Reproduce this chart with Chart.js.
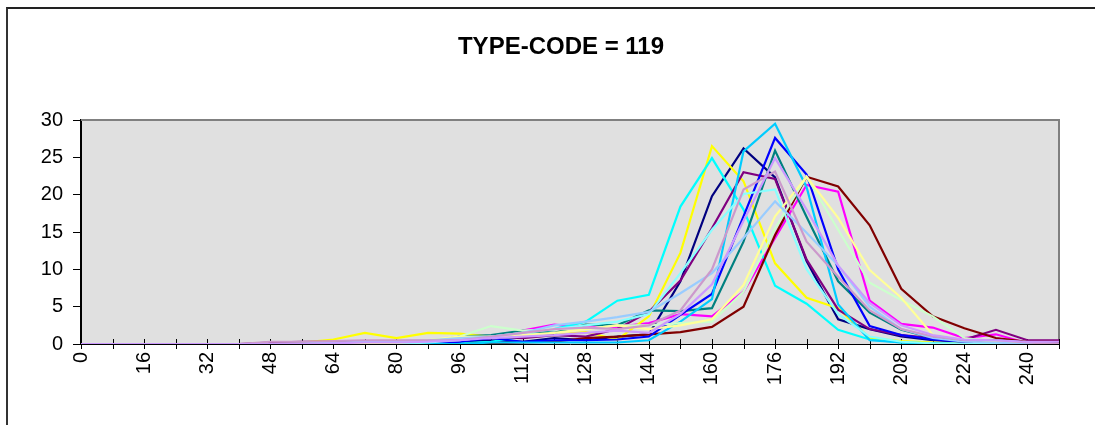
<!DOCTYPE html>
<html>
<head>
<meta charset="utf-8">
<script src="https://cdn.jsdelivr.net/npm/chart.js@4.4.0/dist/chart.umd.min.js"></script>
<style>
  html, body { margin: 0; padding: 0; background: #fff; }
  #wrap { position: relative; width: 1095px; height: 425px; }
  #frame { position: absolute; left: 6px; top: 7px; right: -10px; bottom: -10px; border-top: 2px solid #222; border-left: 2px solid #333; pointer-events: none; }
  canvas { position: absolute; left: 0; top: 0; }
</style>
</head>
<body>
<div id="wrap">
  <canvas id="c" width="1095" height="425"></canvas>
  <div id="frame"></div>
</div>
<script>
const titleText = "TYPE-CODE = 119";
const categories = [0,8,16,24,32,40,48,56,64,72,80,88,96,104,112,120,128,136,144,152,160,168,176,184,192,200,208,216,224,232,240,248];
const yTicks = [0,5,10,15,20,25,30];

const sNavy      = [0,0,0,0,0,0,0,0,0,0,0,0.1,0.3,0.5,0.3,0.8,0.5,1.0,1.3,8.4,19.8,26.2,22.3,11.1,3.3,2.0,1.0,0.5,0.3,0.2,0,0];
const sMagenta   = [0,0,0,0,0,0,0,0,0.1,0.2,0.2,0.3,0.5,0.8,1.8,2.6,2.2,2.3,2.8,4.0,3.7,7.0,14.2,21.3,20.4,5.8,2.7,2.2,0.8,1.3,0.1,0];
const sYellow    = [0,0,0,0,0,0,0,0.2,0.6,1.5,0.8,1.5,1.4,1.0,0.9,1.2,1.6,0.6,3.7,12.2,26.5,21.8,10.8,6.2,4.8,0.8,0.4,0.2,0,0,0,0];
const sCyan      = [0,0,0,0,0,0,0,0,0,0,0,0,0.1,0.3,1.0,2.0,3.0,5.8,6.6,18.4,24.9,18.0,7.8,5.4,1.9,0.6,0.2,0.1,0,0,0,0];
const sPurple    = [0,0,0,0,0,0,0.2,0.3,0.3,0.4,0.4,0.4,0.5,1.0,0.8,1.2,1.0,2.0,4.3,8.5,15.5,23.0,22.1,11.3,4.6,2.0,1.2,0.8,0.6,1.9,0.5,0.5];
const sMaroon    = [0,0,0,0,0,0,0,0,0,0,0,0,0,0.1,0.2,0.3,0.8,1.0,1.3,1.6,2.3,5.0,14.6,22.4,21.1,15.9,7.4,3.7,2.1,0.8,0.3,0.3];
const sTeal      = [0,0,0,0,0,0,0,0,0,0,0.1,0.3,1.0,1.2,1.8,1.5,2.6,2.5,4.5,4.4,4.8,13.7,25.9,17.0,8.4,4.2,1.9,0.8,0.4,0.2,0,0];
const sBlue      = [0,0,0,0,0,0,0,0,0,0,0,0,0.3,0.8,0.3,0.5,0.5,0.6,1.0,3.9,6.7,17.1,27.6,22.7,10.0,2.4,1.2,0.6,0.3,0.5,0.2,0];
const sSkyBlue   = [0,0,0,0,0,0,0,0,0,0,0,0,0,0.2,0.2,0.2,0.2,0.2,0.5,3.0,6.0,25.8,29.5,21.0,5.3,0.5,0.2,0.1,0,0,0,0];
const sLightCyan = [0,0,0,0,0,0,0,0,0,0,0,0.2,0.5,1.0,1.5,2.0,2.5,3.0,4.0,9.5,15.3,20.1,20.7,10.0,4.0,1.0,0.3,0.1,0,0,0,0];
const sLightGrn  = [0,0,0,0,0,0,0,0,0,0,0.1,0.5,1.0,2.4,1.8,2.0,2.0,2.5,2.5,2.8,3.0,7.0,15.5,22.4,15.3,8.2,5.9,3.7,0.8,0.3,0.1,0];
const sLightYel  = [0,0,0,0,0,0,0,0,0,0,0.2,0.5,1.0,1.0,1.2,1.5,2.0,2.5,2.0,2.5,3.3,7.9,17.1,22.4,16.9,9.9,6.2,1.2,0.6,0.3,0.1,0];
const sPaleBlue  = [0,0,0,0,0,0,0,0.1,0.2,0.3,0.4,0.5,0.8,1.0,1.5,2.5,3.0,3.6,4.3,6.8,9.5,14.2,19.1,14.9,10.5,5.0,2.0,0.8,0.3,0.2,0,0];
const sMauve     = [0,0,0,0,0,0,0.3,0.3,0.4,0.5,0.5,0.5,0.5,1.0,1.5,2.0,2.2,2.0,2.5,4.5,10.0,20.7,23.1,13.7,9.0,4.5,2.0,1.0,0.5,0.5,0.2,0];
const sLavender  = [0,0,0,0,0,0,0,0,0.1,0.2,0.2,0.3,0.5,0.8,1.0,1.2,1.5,1.8,1.5,4.0,8.0,16.5,24.9,18.0,10.5,5.5,2.5,1.2,0.6,0.5,0.3,0.3];

const seriesList = [
  {d: sNavy, c: '#000080'},
  {d: sMagenta, c: '#FF00FF'},
  {d: sYellow, c: '#FFFF00'},
  {d: sCyan, c: '#00FFFF'},
  {d: sPurple, c: '#800080'},
  {d: sMaroon, c: '#800000'},
  {d: sTeal, c: '#008080'},
  {d: sBlue, c: '#0000FF'},
  {d: sSkyBlue, c: '#00CCFF'},
  {d: sLightCyan, c: '#88FFFF'},
  {d: sLightGrn, c: '#CCFFCC'},
  {d: sLightYel, c: '#FFFF99'},
  {d: sPaleBlue, c: '#99CCFF'},
  {d: sMauve, c: '#CC99CC'},
  {d: sLavender, c: '#CC99FF'}
];

const N = seriesList.length;
const datasets = seriesList.map((s, i) => ({
  data: s.d,
  borderColor: s.c,
  backgroundColor: s.c,
  borderWidth: 2.2,
  pointRadius: 0,
  tension: 0,
  fill: false,
  order: N - i
}));

const FONT = "'Liberation Sans', Arial, Helvetica, sans-serif";

const plotDeco = {
  id: 'plotDeco',
  beforeDraw(chart) {
    const a = chart.chartArea, ctx = chart.ctx;
    ctx.save();
    ctx.fillStyle = '#E0E0E0';
    ctx.fillRect(a.left, a.top, a.right - a.left, a.bottom - a.top);
    ctx.fillStyle = '#000';
    ctx.font = "bold 24px " + FONT;
    ctx.textAlign = 'center';
    ctx.textBaseline = 'middle';
    ctx.fillText(titleText, 561, 47);
    ctx.restore();
  },
  beforeDatasetsDraw(chart) {
    const a = chart.chartArea, ctx = chart.ctx, xs = chart.scales.x;
    ctx.save();
    ctx.strokeStyle = '#808080';
    ctx.lineWidth = 2;
    ctx.beginPath();
    ctx.moveTo(a.left, a.top);
    ctx.lineTo(a.right, a.top);
    ctx.lineTo(a.right, a.bottom);
    ctx.stroke();
    ctx.strokeStyle = '#000';
    ctx.lineWidth = 1;
    ctx.beginPath();
    for (let i = 0; i < categories.length; i++) {
      const x = Math.round(xs.getPixelForValue(i)) + 0.5;
      ctx.moveTo(x, a.bottom - 5);
      ctx.lineTo(x, a.bottom + 5);
    }
    ctx.stroke();
    ctx.restore();
  }
};

new Chart(document.getElementById('c'), {
  type: 'line',
  data: { labels: categories.map(String), datasets },
  options: {
    responsive: false,
    animation: false,
    devicePixelRatio: 1,
    layout: { padding: { left: 0, right: 36, top: 120, bottom: 0 } },
    plugins: {
      legend: { display: false },
      tooltip: { enabled: false },
      title: { display: false }
    },
    scales: {
      x: {
        type: 'category',
        offset: false,
        grid: { display: true, drawOnChartArea: false, drawTicks: false, color: 'transparent' },
        border: { display: true, color: '#000', width: 1 },
        ticks: {
          autoSkip: false,
          minRotation: 90,
          maxRotation: 90,
          padding: 8,
          color: '#000',
          font: { family: FONT, size: 20 },
          callback: function(v, i) { return (i % 2 === 0) ? categories[i] : ''; }
        },
        afterFit(scale) { scale.height = 81; }
      },
      y: {
        min: 0,
        max: 30,
        afterBuildTicks(scale) { scale.ticks = yTicks.map(v => ({ value: v })); },
        grid: { drawOnChartArea: false, drawTicks: true, tickLength: 8, color: '#000' },
        border: { display: true, color: '#000', width: 2 },
        ticks: {
          padding: 10,
          color: '#000',
          font: { family: FONT, size: 20 }
        },
        afterFit(scale) { scale.width = 81; }
      }
    }
  },
  plugins: [plotDeco]
});
</script>
</body>
</html>
